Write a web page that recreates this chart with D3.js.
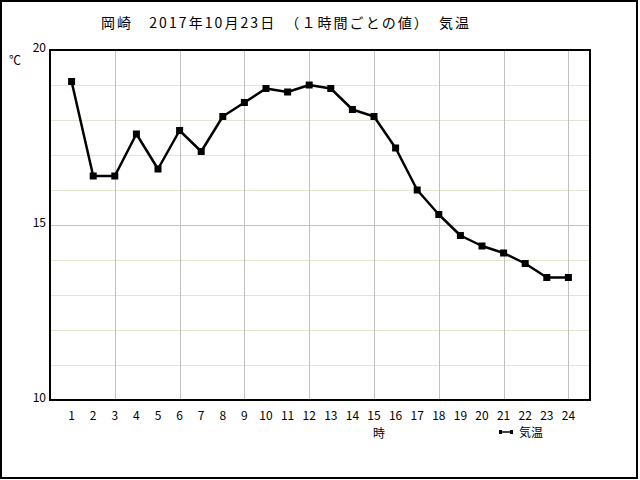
<!DOCTYPE html>
<html>
<head>
<meta charset="utf-8">
<script src="https://cdn.jsdelivr.net/npm/d3@7"></script>
<style>
  body { margin: 0; background: #fff; }
  svg text { font-family: "Noto Sans CJK JP", "DejaVu Sans", sans-serif; fill: #000; }
</style>
</head>
<body>
<div id="chart"></div>
<script>
// hourly temperature, Okazaki 2017-10-23
const hours = d3.range(1, 25);
const temps = [19.1, 16.4, 16.4, 17.6, 16.6, 17.7, 17.1, 18.1, 18.5, 18.9, 18.8, 19.0,
               18.9, 18.3, 18.1, 17.2, 16.0, 15.3, 14.7, 14.4, 14.2, 13.9, 13.5, 13.5];
const yTicks = [10, 15, 20];
const titleText = '岡崎　2017年10月23日　（１時間ごとの値）　気温';

const width = 640, height = 480;
const plot = { left: 50, top: 50, right: 590, bottom: 400 };

const svg = d3.select('#chart').append('svg')
    .attr('width', width)
    .attr('height', height);

// outer frame
svg.append('rect')
    .attr('x', 1).attr('y', 1)
    .attr('width', 636).attr('height', 477)
    .attr('fill', '#fff')
    .attr('stroke', '#000')
    .attr('stroke-width', 2);

const x = d3.scaleLinear().domain([0, 25]).range([plot.left, plot.right]);
const y = d3.scaleLinear().domain([10, 20]).range([plot.bottom, plot.top]);

// crisp 1px lines
const px = v => Math.round(v) + 0.5;

// horizontal grid: every degree beige, 15 grey
const g = svg.append('g');
g.selectAll('line.hgrid')
    .data(d3.range(11, 20))
    .enter().append('line')
    .attr('x1', plot.left).attr('x2', plot.right)
    .attr('y1', d => px(y(d))).attr('y2', d => px(y(d)))
    .attr('stroke', d => d === 15 ? '#c0c0c0' : '#e6e3cf')
    .attr('stroke-width', 1);

// vertical grid every 3 hours
g.selectAll('line.vgrid')
    .data(d3.range(3, 25, 3))
    .enter().append('line')
    .attr('x1', d => px(x(d))).attr('x2', d => px(x(d)))
    .attr('y1', plot.top).attr('y2', plot.bottom)
    .attr('stroke', '#c0c0c0')
    .attr('stroke-width', 1);

// plot frame
svg.append('rect')
    .attr('x', plot.left).attr('y', plot.top)
    .attr('width', plot.right - plot.left)
    .attr('height', plot.bottom - plot.top)
    .attr('fill', 'none')
    .attr('stroke', '#000')
    .attr('stroke-width', 2);

// y labels
svg.selectAll('text.ytick')
    .data(yTicks)
    .enter().append('text')
    .attr('x', 46)
    .attr('y', d => y(d) + 2)
    .attr('text-anchor', 'end')
    .attr('font-size', 12)
    .text(d => d);

svg.append('text')
    .attr('x', 15).attr('y', 65)
    .attr('text-anchor', 'middle')
    .attr('font-size', 12)
    .text('℃');

// x labels
svg.selectAll('text.xtick')
    .data(hours)
    .enter().append('text')
    .attr('x', d => x(d))
    .attr('y', 420)
    .attr('text-anchor', 'middle')
    .attr('font-size', 12)
    .text(d => d);

svg.append('text')
    .attr('x', 379).attr('y', 438)
    .attr('text-anchor', 'middle')
    .attr('font-size', 12)
    .text('時');

// title
svg.append('text')
    .attr('x', 101).attr('y', 28)
    .attr('font-size', 14)
    .attr('textLength', 368)
    .attr('lengthAdjust', 'spacing')
    .text(titleText);

// series line
const line = d3.line()
    .x((d, i) => x(hours[i]))
    .y(d => y(d));

svg.append('path')
    .datum(temps)
    .attr('d', line)
    .attr('fill', 'none')
    .attr('stroke', '#000')
    .attr('stroke-width', 2.5)
    .attr('stroke-linejoin', 'round');

svg.selectAll('rect.pt')
    .data(temps)
    .enter().append('rect')
    .attr('x', (d, i) => x(hours[i]) - 3.5)
    .attr('y', d => y(d) - 3.5)
    .attr('width', 7).attr('height', 7)
    .attr('fill', '#000');

// legend
const lg = svg.append('g').attr('transform', 'translate(500,432)');
lg.append('line')
    .attr('x1', 0).attr('x2', 12)
    .attr('y1', 0).attr('y2', 0)
    .attr('stroke', '#000').attr('stroke-width', 1.5);
lg.append('rect').attr('x', -1).attr('y', -2).attr('width', 3).attr('height', 4).attr('fill', '#000');
lg.append('rect').attr('x', 10).attr('y', -2).attr('width', 3).attr('height', 4).attr('fill', '#000');
lg.append('text')
    .attr('x', 19).attr('y', 5)
    .attr('font-size', 12)
    .text('気温');
</script>
</body>
</html>
